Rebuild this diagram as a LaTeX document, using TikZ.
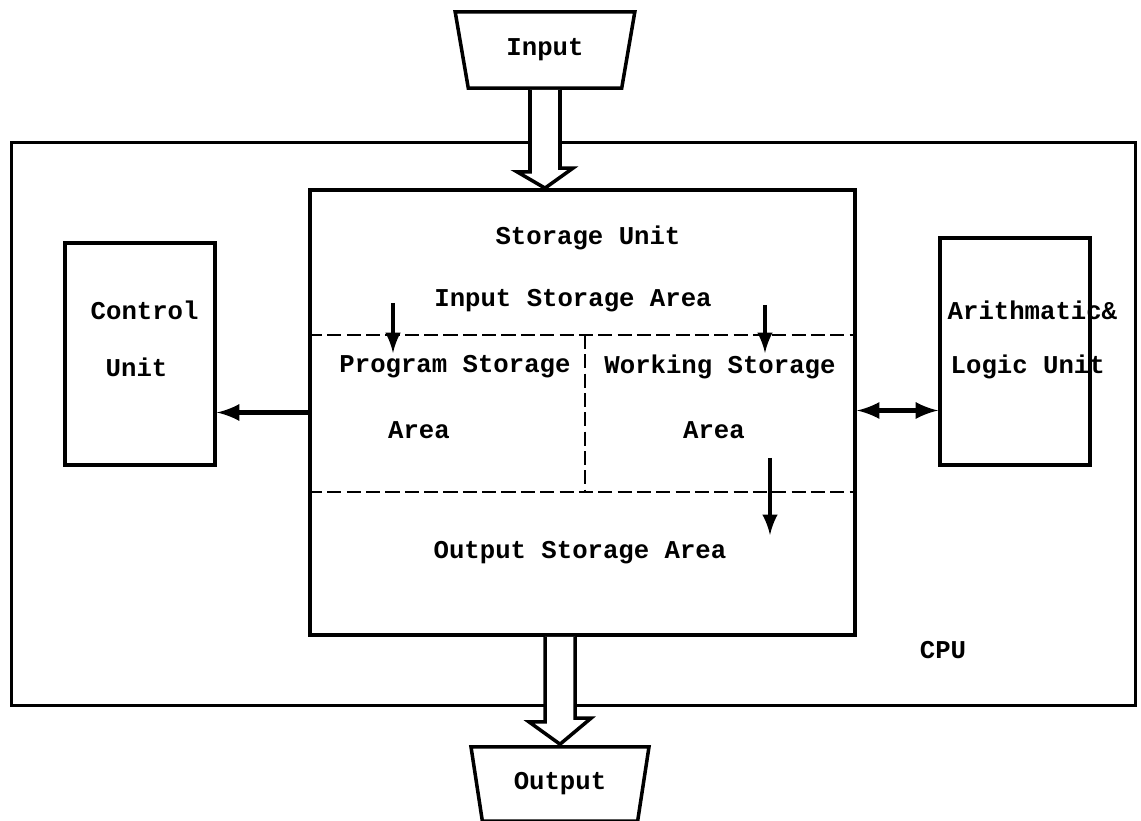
\documentclass[tikz,border=0pt]{standalone}
\usepackage{fontspec}
\setmonofont{Liberation Mono}
\usetikzlibrary{shapes.geometric,calc}

\tikzset{
  box/.style={draw,line width=1pt,inner sep=0pt},
  io/.style={draw,line width=1pt,trapezium,trapezium stretches=true,
    shape border rotate=180,trapezium angle=78,inner sep=2pt,
    font=\fontsize{7.3}{9}\selectfont\ttfamily\bfseries},
  hollow/.style={draw,fill=white,line width=1pt,line join=miter},
  dashline/.style={line width=0.8pt,dash pattern=on 4pt off 1.5pt},
  lbl/.style={font=\fontsize{7.3}{9}\selectfont\ttfamily\bfseries,inner sep=0pt}
}

\begin{document}
\begin{tikzpicture}[x=0.01cm,y=-0.01cm,>=latex]
\useasboundingbox (0,0) rectangle (1141,821);

% outer box
\node[box,minimum width=11.23cm,minimum height=5.63cm] (cpu) at (573.5,424) {};

% blocks
\node[box,minimum width=5.45cm,minimum height=4.45cm] (su) at (582.5,412.5) {};
\node[box,minimum width=1.5cm,minimum height=2.22cm] (cu) at (140,354) {};
\node[box,minimum width=1.5cm,minimum height=2.27cm] (alu) at (1015,351.5) {};

% in / out
\node[io,minimum width=1.8cm,minimum height=0.76cm] (inp) at (545,50) {Input};
\node[io,minimum width=1.78cm,minimum height=0.74cm] (outp) at (560,784) {Output};

% storage areas
\draw[dashline] (su.west |- 0,335) -- (su.east |- 0,335);
\draw[dashline] (su.west |- 0,492) -- (su.east |- 0,492);
\draw[dashline] (585,335) -- (585,492);

% texts
\node[lbl] (tsu) at (588,238) {Storage Unit};
\node[lbl] (tisa) at (573,301) {Input Storage Area};
\node[lbl] (tpsa) at (455,367) {Program Storage};
\node[lbl] (tpsb) at (419,430) {Area};
\node[lbl] (twsa) at (720,367) {Working Storage};
\node[lbl] (twsb) at (714,430) {Area};
\node[lbl] (tosa) at (580,553) {Output Storage Area};
\node[lbl,anchor=west] (tcu) at (90,310) {Control};
\node[lbl,anchor=west] (tcub) at (105,367) {Unit};
\node[lbl,anchor=west] (talu) at (947,310) {Arithmatic\&};
\node[lbl,anchor=west] (talub) at (950,367) {Logic Unit};
\node[lbl] (tcpu) at (943,650) {CPU};

% hollow arrows
\draw[hollow] ($(inp.south)+(-15,0)$) -- ++(0,82) -- ++(-13,0)
  -- (inp.south |- su.north) -- ++(28,-20) -- ++(-13,0) -- ($(inp.south)+(15,0)$);
\draw[hollow] ($(outp.north |- su.south)+(-15,0)$) -- ++(0,85) -- ++(-16,0)
  -- ($(outp.north)+(0,-1)$) -- ++(31,-26) -- ++(-16,0) -- ($(outp.north |- su.south)+(15,0)$);

% small arrows
\coordinate (p1) at (393,303);
\coordinate (p2) at (765,305);
\coordinate (p3) at (770,458);
\draw[->,line width=1pt] (p1) -- ++(0,50);
\draw[->,line width=1pt] (p2) -- ++(0,48);
\draw[->,line width=1pt] (p3) -- ++(0,77);

% connections
\draw[->,line width=1.2pt] (su.west) -- (su.west -| cu.east);
\draw[<->,line width=1.2pt] ($(su.east)+(0,-2)$) -- ($(su.east -| alu.west)+(0,-2)$);

\end{tikzpicture}
\end{document}
